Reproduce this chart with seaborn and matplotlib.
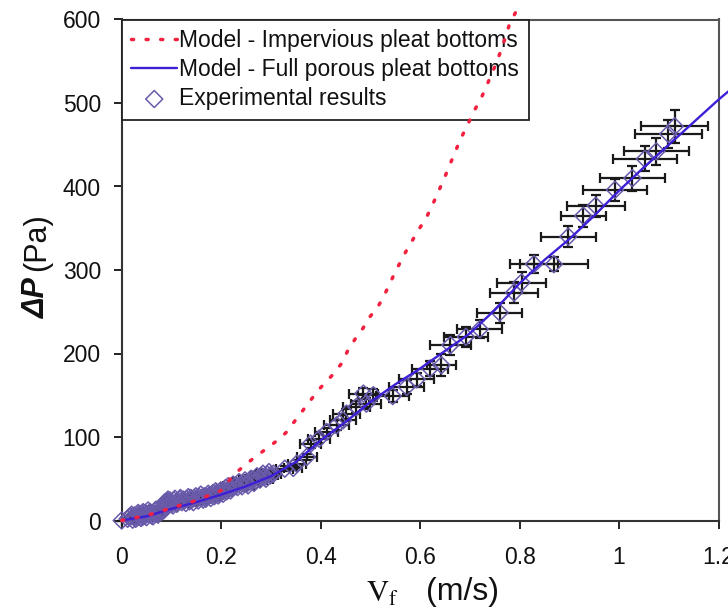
import numpy as np
import pandas as pd
import matplotlib
matplotlib.use("Agg")
import matplotlib.pyplot as plt
import seaborn as sns

# ---------------- data ----------------
# Model curves
vf_impervious = [0.00, 0.05, 0.10, 0.15, 0.20, 0.224, 0.245, 0.268, 0.291, 0.311, 0.330,
                 0.362, 0.395, 0.425, 0.442, 0.455, 0.469, 0.486, 0.499, 0.513, 0.525,
                 0.536, 0.548, 0.559, 0.574, 0.588, 0.600, 0.612, 0.625, 0.636, 0.646,
                 0.657, 0.680, 0.710, 0.723, 0.734, 0.744, 0.754, 0.764, 0.774, 0.779, 0.794]
dp_impervious = [0, 6, 15, 24, 36, 54, 65, 76, 86, 95, 105,
                 130, 156, 175, 188, 204, 217, 231, 244, 254, 266,
                 280, 295, 308, 325, 339, 351, 362, 378, 393, 406,
                 422, 455, 492, 506, 521, 535, 549, 565, 583, 593, 611]

vf_porous = [0.00, 0.05, 0.10, 0.15, 0.20, 0.25, 0.30, 0.35, 0.40, 0.45, 0.50, 0.55,
             0.60, 0.65, 0.70, 0.75, 0.80, 0.85, 0.90, 0.95, 1.00, 1.05, 1.10, 1.15,
             1.20, 1.22]
dp_porous = [0, 5, 14, 22, 31, 41, 53, 70, 96, 118, 142, 163,
             182, 203, 224, 252, 284, 312, 337, 365, 395, 423, 450, 477,
             504, 514]

# Experimental results (low velocity, dense) - first run
vf_exp_low = [0.000, 0.012, 0.018, 0.022, 0.026, 0.030, 0.034, 0.037, 0.040, 0.044,
              0.047, 0.050, 0.054, 0.057, 0.060, 0.064, 0.067, 0.070, 0.074, 0.077,
              0.080, 0.083, 0.086, 0.089, 0.092, 0.095, 0.098, 0.101, 0.105, 0.109,
              0.113, 0.117, 0.121, 0.126, 0.131, 0.136, 0.141, 0.146, 0.151, 0.156,
              0.161, 0.166, 0.171, 0.176, 0.181, 0.186, 0.191, 0.196, 0.201, 0.206,
              0.211, 0.216, 0.221, 0.227, 0.233, 0.239, 0.245, 0.251, 0.257, 0.263,
              0.269, 0.275, 0.281, 0.287, 0.293, 0.299]
dp_exp_low = [0, 2, 5, 1, 6, 3, 7, 4, 8, 5,
              9, 4, 8, 10, 6, 9, 11, 8, 10, 12,
              11, 15, 18, 21, 23, 19, 22, 20, 24, 21,
              23, 25, 22, 24, 26, 23, 25, 27, 26, 28,
              27, 29, 28, 30, 31, 29, 33, 32, 34, 36,
              35, 38, 39, 41, 40, 43, 45, 44, 47, 49,
              48, 51, 53, 52, 55, 54]
vf_err_low = [0.000, 0.001, 0.001, 0.001, 0.001, 0.002, 0.002, 0.002, 0.002, 0.002,
              0.002, 0.003, 0.003, 0.003, 0.003, 0.003, 0.003, 0.004, 0.004, 0.004,
              0.004, 0.004, 0.004, 0.004, 0.005, 0.005, 0.005, 0.005, 0.005, 0.005,
              0.006, 0.006, 0.006, 0.006, 0.007, 0.007, 0.007, 0.007, 0.008, 0.008,
              0.008, 0.008, 0.009, 0.009, 0.009, 0.009, 0.010, 0.010, 0.010, 0.010,
              0.011, 0.011, 0.011, 0.011, 0.012, 0.012, 0.012, 0.013, 0.013, 0.013,
              0.013, 0.014, 0.014, 0.014, 0.015, 0.015]
dp_err_low = [0, 1, 1, 1, 1, 1, 1, 1, 1, 1,
              1, 1, 1, 1, 1, 1, 1, 1, 1, 1,
              1, 1, 1, 1, 1, 1, 1, 1, 1, 1,
              1, 1, 1, 1, 1, 1, 1, 2, 2, 2,
              2, 2, 2, 2, 2, 2, 2, 2, 2, 2,
              2, 2, 2, 2, 2, 2, 2, 2, 2, 2,
              2, 2, 3, 3, 3, 3]

# Experimental results (low velocity, dense) - second run
vf_exp_low2 = [0.015, 0.020, 0.028, 0.033, 0.039, 0.043, 0.049, 0.053, 0.059, 0.063,
               0.069, 0.073, 0.079, 0.084, 0.087, 0.090, 0.093, 0.097, 0.103, 0.107,
               0.111, 0.118, 0.124, 0.129, 0.134, 0.139, 0.144, 0.149, 0.154, 0.159,
               0.164, 0.169, 0.174, 0.179, 0.184, 0.189, 0.194, 0.199, 0.204, 0.209,
               0.214, 0.219, 0.224, 0.230, 0.236, 0.242, 0.248, 0.254, 0.260, 0.266,
               0.272, 0.278, 0.284, 0.290, 0.296]
dp_exp_low2 = [4, 7, 2, 9, 3, 10, 7, 12, 9, 5,
               13, 7, 14, 12, 22, 16, 25, 24, 18, 26,
               20, 27, 25, 21, 28, 27, 22, 29, 24, 31,
               25, 26, 32, 27, 33, 35, 30, 36, 32, 39,
               41, 36, 43, 42, 46, 41, 48, 42, 50, 45,
               53, 49, 56, 50, 58]
vf_err_low2 = [0.001, 0.001, 0.001, 0.002, 0.002, 0.002, 0.002, 0.003, 0.003, 0.003,
               0.003, 0.004, 0.004, 0.004, 0.004, 0.005, 0.005, 0.005, 0.005, 0.005,
               0.006, 0.006, 0.006, 0.006, 0.007, 0.007, 0.007, 0.007, 0.008, 0.008,
               0.008, 0.008, 0.009, 0.009, 0.009, 0.009, 0.010, 0.010, 0.010, 0.010,
               0.011, 0.011, 0.011, 0.012, 0.012, 0.012, 0.012, 0.013, 0.013, 0.013,
               0.014, 0.014, 0.014, 0.015, 0.015]
dp_err_low2 = [1, 1, 1, 1, 1, 1, 1, 1, 1, 1,
               1, 1, 1, 1, 1, 1, 1, 1, 1, 1,
               1, 1, 1, 1, 1, 1, 1, 1, 1, 2,
               2, 2, 2, 2, 2, 2, 2, 2, 2, 2,
               2, 2, 2, 2, 2, 2, 2, 2, 2, 2,
               3, 3, 3, 3, 3]

# Experimental results (higher velocity)
vf_exp_high = [0.305, 0.328, 0.345, 0.352, 0.372, 0.380, 0.397, 0.412, 0.432, 0.445,
               0.452, 0.472, 0.486, 0.492, 0.506, 0.545, 0.573, 0.593, 0.620, 0.643,
               0.661, 0.692, 0.720, 0.760, 0.789, 0.804, 0.829, 0.869, 0.898, 0.928,
               0.953, 0.992, 1.027, 1.052, 1.075, 1.099, 1.112]
dp_exp_high = [56, 62, 63, 68, 76, 92, 98, 106, 114, 120,
               128, 136, 152, 140, 150, 149, 160, 169, 182, 186,
               210, 220, 229, 249, 273, 285, 307, 307, 340, 365,
               377, 396, 410, 433, 442, 463, 472]
vf_err_high = [0.016, 0.017, 0.018, 0.018, 0.020, 0.021, 0.022, 0.023, 0.025, 0.026,
               0.027, 0.028, 0.029, 0.030, 0.031, 0.033, 0.035, 0.035, 0.036, 0.030,
               0.042, 0.044, 0.045, 0.045, 0.048, 0.050, 0.049, 0.069, 0.055, 0.045,
               0.058, 0.064, 0.065, 0.064, 0.066, 0.067, 0.067]
dp_err_high = [3, 3, 3, 4, 4, 5, 5, 5, 6, 6,
               6, 7, 7, 7, 7, 7, 8, 8, 9, 13,
               12, 12, 11, 12, 13, 13, 11, 8, 13, 13,
               13, 13, 15, 15, 16, 17, 20]

x_ticks = [0, 0.2, 0.4, 0.6, 0.8, 1.0, 1.2]
x_ticklabels = ["0", "0.2", "0.4", "0.6", "0.8", "1", "1.2"]
y_ticks = [0, 100, 200, 300, 400, 500, 600]

labels = ["Model - Impervious pleat bottoms",
          "Model - Full porous pleat bottoms",
          "Experimental results"]

# ---------------- style ----------------
sns.set_theme(style="ticks")
plt.rcParams["font.family"] = ["Liberation Sans", "DejaVu Sans"]
plt.rcParams["mathtext.fontset"] = "stix"

RED = "#f2213f"
BLUE = "#3d1fd6"
PURPLE = "#6a5aaa"
EBAR = "#1a1a1a"
TXT = "#111111"

fig = plt.figure(figsize=(7.28, 6.14), dpi=100)
ax = fig.add_axes([121.7 / 728, 1 - 520.5 / 614, (718.5 - 121.7) / 728, (520.5 - 19.5) / 614])

exp = pd.DataFrame({
    "vf": vf_exp_low + vf_exp_low2 + vf_exp_high,
    "dp": dp_exp_low + dp_exp_low2 + dp_exp_high,
    "vf_err": vf_err_low + vf_err_low2 + vf_err_high,
    "dp_err": dp_err_low + dp_err_low2 + dp_err_high,
})
imp = pd.DataFrame({"vf": vf_impervious, "dp": dp_impervious})
por = pd.DataFrame({"vf": vf_porous, "dp": dp_porous})

# error bars
ax.errorbar(exp["vf"], exp["dp"], xerr=exp["vf_err"], yerr=exp["dp_err"],
            fmt="none", ecolor=EBAR, elinewidth=1.6, capsize=3.5, capthick=1.6,
            zorder=2, clip_on=False)

# models
sns.lineplot(data=imp, x="vf", y="dp", ax=ax, color=RED, lw=2.5,
             linestyle=(0, (0.6, 3.6)), dash_capstyle="round", sort=False,
             label=labels[0], zorder=6, clip_on=False)
sns.lineplot(data=por, x="vf", y="dp", ax=ax, color=BLUE, lw=1.7, sort=False,
             label=labels[1], zorder=4, clip_on=False)

# experimental markers
sns.scatterplot(data=exp, x="vf", y="dp", ax=ax, marker="D", s=75,
                facecolors="none", edgecolors=PURPLE, linewidths=1.1,
                label=labels[2], zorder=3, clip_on=False)

ax.set_xlim(0, 1.2)
ax.set_ylim(0, 600)
ax.set_xticks(x_ticks)
ax.set_xticklabels(x_ticklabels)
ax.set_yticks(y_ticks)
ax.set_xlabel("")
ax.set_ylabel("")
ax.tick_params(direction="out", length=5.5, width=1.4, colors="#222222",
               labelsize=16.5, labelcolor=TXT)
ax.tick_params(axis="y", pad=9.5)
ax.tick_params(axis="x", pad=13)
for s in ax.spines.values():
    s.set_visible(True)
    s.set_color("#333333")
    s.set_linewidth(1.5)
ax.spines["top"].set_color("#555555")
ax.spines["right"].set_color("#555555")

leg = ax.legend(loc="upper left", borderaxespad=0, fancybox=False, frameon=True,
                edgecolor="#222222", framealpha=1, fontsize=16.5,
                handlelength=2.0, handletextpad=0.1, labelspacing=0.26,
                borderpad=0.42)
leg.get_frame().set_linewidth(1.3)
leg.set_zorder(5)
for t in leg.get_texts():
    t.set_color(TXT)

# axis labels
fig.text(37 / 728, 1 - 298 / 614, "\u0394P", rotation=90, ha="center", va="center",
         fontsize=22, fontweight="bold", fontstyle="italic", color=TXT)
fig.text(37 / 728, 1 - 242 / 614, "(Pa)", rotation=90, ha="center", va="center",
         fontsize=22, color=TXT)
fig.text(382 / 728, 1 - 594 / 614, r"$\mathrm{V}_{\mathrm{f}}$", ha="center", va="center",
         fontsize=22, color=TXT)
fig.text(463 / 728, 1 - 592 / 614, "(m/s)", ha="center", va="center",
         fontsize=23, color=TXT)

fig.savefig("out.png", dpi=100)
